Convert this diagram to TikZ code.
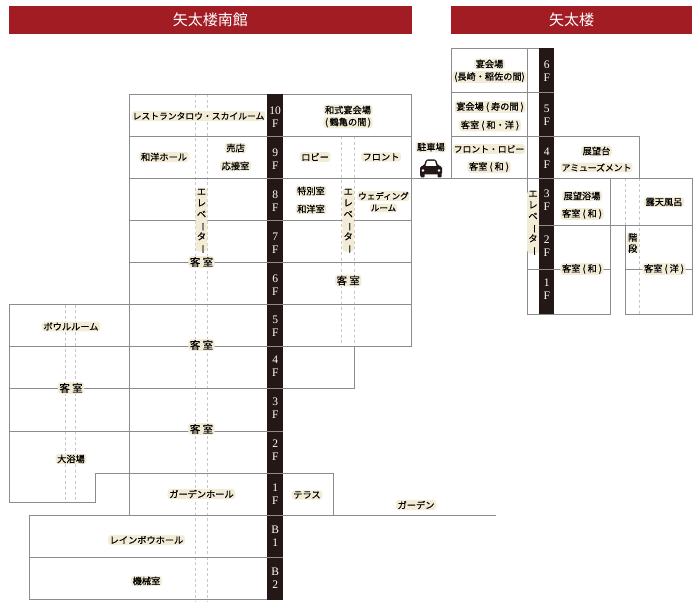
\documentclass[tikz,border=0pt]{standalone}
\usepackage{fontspec}
\usepackage{graphicx}
\setmainfont{Liberation Serif}
\newfontfamily\jpfont[RawFeature={embolden=0.45}]{Noto Sans CJK JP}
\newfontfamily\jptitle{Noto Sans CJK JP}
\definecolor{hdr}{HTML}{A21C24}
\definecolor{band}{HTML}{231815}
\definecolor{halo}{HTML}{F2EBD5}
\definecolor{grid}{HTML}{8C8C8C}
\definecolor{dashc}{HTML}{C8C8C8}
\tikzset{
  wall/.style={draw=grid,line width=0.9pt},
  guide/.style={draw=dashc,line width=0.8pt,dash pattern=on 3pt off 2.5pt},
  title/.style={fill=hdr,text=white,minimum height=28pt,inner sep=0pt,font=\jptitle\fontsize{15}{17}\selectfont},
  lab/.style={fill=halo,rounded corners=3pt,inner xsep=1.6pt,inner ysep=1pt,text=black,align=center,font=\jpfont\fontsize{9.2}{12.6}\selectfont},
  room/.style={lab,font=\jpfont\fontsize{10.4}{12.6}\selectfont},
  small/.style={lab,inner xsep=1pt,font=\jpfont\fontsize{8.5}{12}\selectfont},
  vlab/.style={fill=halo,rounded corners=3pt,inner xsep=1.2pt,inner ysep=0.5pt,text=black,align=center,font=\jpfont\fontsize{9.2}{11.2}\selectfont},
  floorband/.style={fill=band,draw=none},
  flr/.style={text=white,align=center,inner sep=0pt,font=\fontsize{11.5}{13}\selectfont},
}
\newcommand{\chouon}{\smash{\rotatebox[origin=c]{-90}{ー}}}
\newcommand{\evlabel}{エ\\レ\\ベ\\\chouon\\タ\\\chouon}
\begin{document}
\begin{tikzpicture}[x=1pt,y=-1pt]
\useasboundingbox (0,0) rectangle (700,609);
% headers
\node[title,anchor=north west,minimum width=402.5pt] (h1) at (9,6) {矢太楼南館};
\node[title,anchor=north west,minimum width=241pt] (h2) at (451,6) {矢太楼};
% dashed shafts
\draw[guide] (195.7,94.5) -- (195.7,602);
\draw[guide] (207.7,94.5) -- (207.7,602);
\draw[guide] (65.3,304.5) -- (65.3,502);
\draw[guide] (75,304.5) -- (75,502);
\draw[guide] (341.7,136.5) -- (341.7,346);
\draw[guide] (354.3,136.5) -- (354.3,346);
\draw[guide] (625.3,178.5) -- (625.3,225);
\draw[guide] (639.3,178.5) -- (639.3,314);
% south wing walls
\draw[wall] (129.3,515) -- (129.3,94.5) -- (411.3,94.5) -- (411.3,346.7) -- (129.3,346.7);
\draw[wall] (129.3,136.5) -- (411.3,136.5);
\draw[wall] (129.3,178.3) -- (692.3,178.3);
\draw[wall] (129.3,220.4) -- (411.3,220.4);
\draw[wall] (129.3,262.4) -- (411.3,262.4);
\draw[wall] (9.3,304.6) -- (411.3,304.6);
\draw[wall] (9.3,346.7) -- (129.3,346.7);
\draw[wall] (354.3,346.7) -- (354.3,388.7);
\draw[wall] (9.3,388.7) -- (354.3,388.7);
\draw[wall] (9.3,431) -- (267,431);
\draw[wall] (9.3,304.6) -- (9.3,502.3) -- (95.7,502.3) -- (95.7,473) -- (267,473);
\draw[wall] (283,473) -- (333.3,473) -- (333.3,515);
\draw[wall] (496,515) -- (29.3,515) -- (29.3,599.3) -- (283,599.3);
\draw[wall] (29.3,557.3) -- (283,557.3);
% main tower walls
\draw[wall] (539,48.4) -- (451.3,48.4) -- (451.3,178.3);
\draw[wall] (451.3,92.3) -- (539,92.3);
\draw[wall] (451.3,136.4) -- (639.3,136.4) -- (639.3,178.3);
\draw[wall] (527.3,48.4) -- (527.3,314) -- (610.3,314) -- (610.3,178.3);
\draw[wall] (554,225.3) -- (692.3,225.3);
\draw[wall] (692.3,178.3) -- (692.3,314) -- (625.3,314) -- (625.3,225.3);
\draw[wall] (527.3,269.3) -- (610.3,269.3);
\draw[wall] (625.3,269.3) -- (692.3,269.3);
% floor bands
\fill[floorband] (267.2,94) rectangle (283.2,599.6);
\fill[floorband] (539.3,48) rectangle (554.3,314.4);
\foreach \y in {136.5,178.3,220.4,262.4,304.6,346.7,388.7,431,473,515,557.3}
  \draw[grid,line width=0.5pt] (267.2,\y) -- (283.2,\y);
\foreach \y in {92.3,136.4,178.3,225.3,269.3}
  \draw[grid,line width=0.5pt] (539.3,\y) -- (554.3,\y);
% floor labels, south wing
\node[flr] (s10) at (275.2,117.2) {10\\F};
\node[flr] (s9) at (275.2,159) {9\\F};
\node[flr] (s8) at (275.2,201) {8\\F};
\node[flr] (s7) at (275.2,243) {7\\F};
\node[flr] (s6) at (275.2,285) {6\\F};
\node[flr] (s5) at (275.2,326) {5\\F};
\node[flr] (s4) at (275.2,366) {4\\F};
\node[flr] (s3) at (275.2,408) {3\\F};
\node[flr] (s2) at (275.2,450.5) {2\\F};
\node[flr] (s1) at (275.2,494) {1\\F};
\node[flr] (sb1) at (275.2,536.5) {B\\1};
\node[flr] (sb2) at (275.2,578.5) {B\\2};
% floor labels, main tower
\node[flr] (m6) at (546.8,71) {6\\F};
\node[flr] (m5) at (546.8,115.5) {5\\F};
\node[flr] (m4) at (546.8,158.5) {4\\F};
\node[flr] (m3) at (546.8,200) {3\\F};
\node[flr] (m2) at (546.8,246) {2\\F};
\node[flr] (m1) at (546.8,289.5) {1\\F};
% rooms, south wing
\node[small,font=\jpfont\fontsize{8.8}{12}\selectfont] (a1) at (198.5,116) {レストランタロウ・スカイルーム};
\node[lab] (a2) at (164,157) {和洋ホール};
\node[lab] (a3) at (235.5,148) {売店};
\node[lab] (a4) at (235.5,166) {応接室};
\node[vlab] (a5) at (201.5,220) {\evlabel};
\node[room] (a6) at (201.5,262) {客 室};
\node[lab] (b1) at (348,110) {和式宴会場};
\node[lab] (b1b) at (348,122.5) {(\,鶴亀の間\,)};
\node[lab] (b2) at (315,157) {ロビー};
\node[lab] (b3) at (381,157) {フロント};
\node[lab] (b4) at (311,191) {特別室};
\node[lab] (b5) at (311,209) {和洋室};
\node[vlab] (b6) at (348.2,220) {\evlabel};
\node[small] (b7) at (383.5,196) {ウェディング};
\node[small] (b7b) at (383.5,208) {ルーム};
\node[room] (b8) at (348.2,280.5) {客 室};
\node[lab] (c1) at (71,326.5) {ボウルルーム};
\node[room] (c2) at (201.5,345) {客 室};
\node[room] (c3) at (71,388) {客 室};
\node[room] (c4) at (201.5,429) {客 室};
\node[lab] (c5) at (71,459) {大浴場};
\node[lab] (c6) at (201.5,494) {ガーデンホール};
\node[lab] (c7) at (307,495) {テラス};
\node[lab] (c8) at (416,505) {ガーデン};
\node[lab] (c9) at (146.5,540) {レインボウホール};
\node[lab] (c10) at (146.5,581) {機械室};
% rooms, main tower
\node[lab] (p1) at (431,147) {駐車場};
\node[lab] (d1) at (489.5,64) {宴会場};
\node[lab] (d1b) at (489.5,77) {(長崎・稲佐の間)};
\node[lab] (d2) at (490,107) {宴会場 ( 寿の間 )};
\node[lab] (d3) at (490,125.5) {客室 ( 和・洋 )};
\node[small,font=\jpfont\fontsize{8.8}{12}\selectfont] (d4) at (489,149) {フロント・ロビー};
\node[lab] (d5) at (489,167) {客室 ( 和 )};
\node[lab] (e1) at (596.5,151) {展望台};
\node[small,font=\jpfont\fontsize{8.8}{12}\selectfont] (e2) at (596.5,167.5) {アミューズメント};
\node[lab] (e3) at (582,196) {展望浴場};
\node[lab] (e4) at (582,214) {客室 ( 和 )};
\node[lab] (e5) at (664,202) {露天風呂};
\node[vlab] (e6) at (533,222) {\evlabel};
\node[lab] (e7) at (582,269) {客室 ( 和 )};
\node[vlab] (e8) at (632.7,243) {階\\段};
\node[lab] (e9) at (664,269) {客室 ( 洋 )};
% car
\fill[band,rounded corners=1.5pt] (420,177) -- (420,166.5) -- (424,165.5) -- (426,159.5) -- (436,159.5) -- (438,165.5) -- (442,166.5) -- (442,174.5) -- (420,174.5) -- cycle;
\fill[band,rounded corners=0.8pt] (420.5,173) rectangle (424.5,177.5);
\fill[band,rounded corners=0.8pt] (437.5,173) rectangle (441.5,177.5);
\fill[white] (425.6,166) -- (427,161) -- (435,161) -- (436.4,166) -- cycle;
\fill[white] (423,170.5) circle (1.3pt);
\fill[white] (439,170.5) circle (1.3pt);
\end{tikzpicture}
\end{document}
